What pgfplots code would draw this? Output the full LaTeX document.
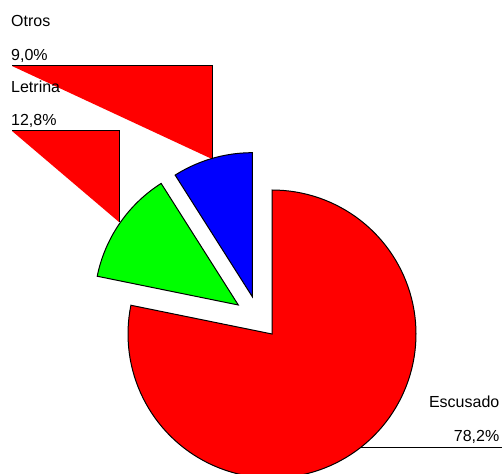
\documentclass[border=0pt]{standalone}
\usepackage{pgfplots}
\pgfplotsset{compat=1.18}
\usepackage{pgfplotstable}
\usepackage{fontspec}
\setmainfont{Liberation Sans}
\pgfplotstableread{
label value dx dy
Escusado 78.2 0 0
Letrina 12.8 -33.7 29
Otros 9.0 -19.7 37.3
}\pietable
\pgfplotstablegetelem{0}{value}\of\pietable \let\va\pgfplotsretval
\pgfplotstablegetelem{1}{value}\of\pietable \let\vb\pgfplotsretval
\pgfplotstablegetelem{2}{value}\of\pietable \let\vc\pgfplotsretval
\pgfplotstablegetelem{1}{dx}\of\pietable \let\bx\pgfplotsretval
\pgfplotstablegetelem{1}{dy}\of\pietable \let\by\pgfplotsretval
\pgfplotstablegetelem{2}{dx}\of\pietable \let\cxx\pgfplotsretval
\pgfplotstablegetelem{2}{dy}\of\pietable \let\cyy\pgfplotsretval
\pgfmathsetmacro\aS{90}
\pgfmathsetmacro\aA{90-3.6*\va}
\pgfmathsetmacro\aB{\aA-3.6*\vb}
\pgfmathsetmacro\aC{\aB-3.6*\vc}
\def\cx{272}\def\cy{139}\def\R{144}
\pgfmathsetmacro\gx{\cx+\bx}\pgfmathsetmacro\gy{\cy+\by}
\pgfmathsetmacro\ux{\cx+\cxx}\pgfmathsetmacro\uy{\cy+\cyy}
\newcommand\lbl{\fontsize{16}{19}\selectfont}
\begin{document}%
\begin{tikzpicture}
\begin{axis}[
  x=1pt, y=1pt,
  xmin=0, xmax=502, ymin=0, ymax=473,
  hide axis,
  clip=true,
]
% leader "lines"
\addplot[fill=red, draw=none] coordinates {(12,407) (212,407) (212,314)} -- cycle;
\addplot[black, line width=1pt] coordinates {(12,407) (212,407) (212,314)};
\addplot[fill=red, draw=none] coordinates {(12,342) (119,342) (119,251)} -- cycle;
\addplot[black, line width=1pt] coordinates {(12,342) (119,342) (119,251)};
\addplot[black, line width=1pt] coordinates {(300,25.3) (502,25.3)};
% slices
\addplot[fill=red, draw=black, line width=1pt, domain=\aA:\aS, samples=120]
  ({\cx+\R*cos(x)}, {\cy+\R*sin(x)}) -- (axis cs:\cx,\cy) -- cycle;
\addplot[fill=green, draw=black, line width=1pt, domain=\aB:\aA, samples=40]
  ({\gx+\R*cos(x)}, {\gy+\R*sin(x)}) -- (axis cs:\gx,\gy) -- cycle;
\addplot[fill=blue, draw=black, line width=1pt, domain=\aC:\aB, samples=40]
  ({\ux+\R*cos(x)}, {\uy+\R*sin(x)}) -- (axis cs:\ux,\uy) -- cycle;
% labels
\node[anchor=base west, inner sep=0pt, font=\lbl] at (axis cs:11,446.3) {Otros};
\node[anchor=base west, inner sep=0pt, font=\lbl] at (axis cs:11,412) {9,0\%};
\node[anchor=base west, inner sep=0pt, font=\lbl] at (axis cs:11,380.7) {Letrina};
\node[anchor=base west, inner sep=0pt, font=\lbl] at (axis cs:11,347) {12,8\%};
\node[anchor=base east, inner sep=0pt, font=\lbl] at (axis cs:499.5,65.7) {Escusado};
\node[anchor=base east, inner sep=0pt, font=\lbl] at (axis cs:499.5,31.3) {78,2\%};
\end{axis}
\pgfresetboundingbox
\useasboundingbox (current axis.south west) rectangle (current axis.north east);
\end{tikzpicture}%
\end{document}
